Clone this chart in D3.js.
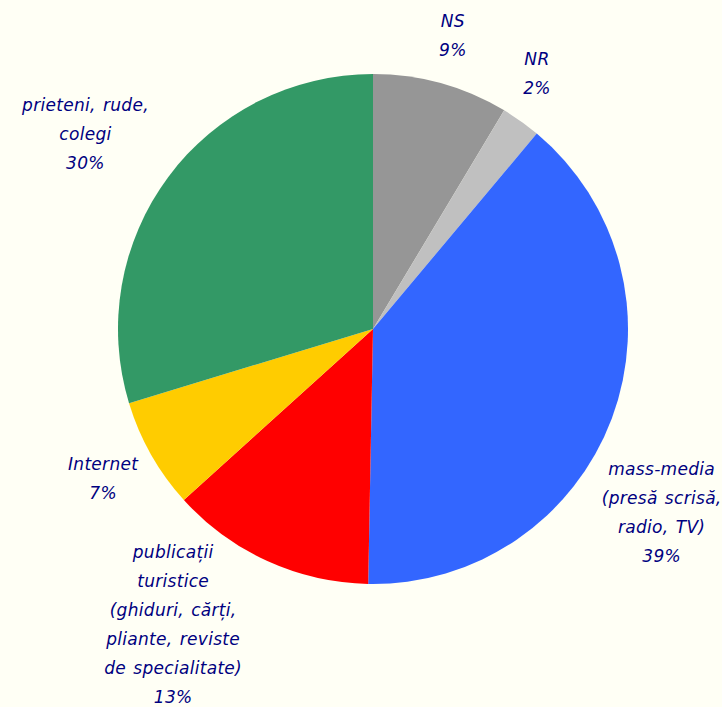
<!DOCTYPE html>
<html>
<head>
<meta charset="utf-8">
<script src="https://cdn.jsdelivr.net/npm/d3@7"></script>
<style>
  html, body { margin: 0; padding: 0; background: #FFFFF5; }
  svg { display: block; }
</style>
</head>
<body>
<svg id="chart" width="722" height="707"></svg>
<script>
// ---- data ----
const categories = ["NS", "NR", "mass-media (presă scrisă, radio, TV)", "publicații turistice (ghiduri, cărți, pliante, reviste de specialitate)", "Internet", "prieteni, rude, colegi"];
const values = [8.6, 2.5, 39.2, 13.0, 7.0, 29.7];
const percentLabels = ["9%", "2%", "39%", "13%", "7%", "30%"];
const labelLines = [
  ["NS"],
  ["NR"],
  ["mass-media", "(presă scrisă,", "radio, TV)"],
  ["publicații", "turistice", "(ghiduri, cărți,", "pliante, reviste", "de specialitate)"],
  ["Internet"],
  ["prieteni, rude,", "colegi"]
];
const colors = ["#969696", "#C0C0C0", "#3366FF", "#FF0000", "#FFCC00", "#339966"];

// ---- layout ----
const cx = 373, cy = 329, R = 255;
const labelR = 305;
const lineH = 29;
// per-label adjustments of the text block centre (layout only)
const labelShift = [[-1.5, 0], [-13, -7.5], [3, 77], [-73.5, 17.5], [-4.5, -1], [-42.5, -13]];

const svg = d3.select("#chart");
const g = svg.append("g").attr("transform", `translate(${cx},${cy})`);

const pie = d3.pie().sort(null).value(d => d)(values);
const arc = d3.arc().innerRadius(0).outerRadius(R);
const labelArc = d3.arc().innerRadius(labelR).outerRadius(labelR);

g.selectAll("path.slice")
  .data(pie)
  .join("path")
  .attr("class", "slice")
  .attr("d", arc)
  .attr("fill", (d, i) => colors[i]);

pie.forEach((d, i) => {
  const [ax, ay] = labelArc.centroid(d);
  const lines = labelLines[i].concat([percentLabels[i]]);
  const n = lines.length;
  const bx = ax + labelShift[i][0];
  const by = ay + labelShift[i][1];
  const t = g.append("text")
    .attr("text-anchor", "middle")
    .attr("font-family", "'DejaVu Sans', Verdana, sans-serif")
    .attr("font-style", "italic")
    .attr("font-size", 17)
    .attr("letter-spacing", 0.3)
    .attr("word-spacing", 1.5)
    .attr("fill", "#000080");
  lines.forEach((ln, k) => {
    t.append("tspan")
      .attr("x", bx)
      .attr("y", by + (k - (n - 1) / 2) * lineH)
      .attr("dy", "0.35em")
      .text(ln);
  });
});
</script>
</body>
</html>
